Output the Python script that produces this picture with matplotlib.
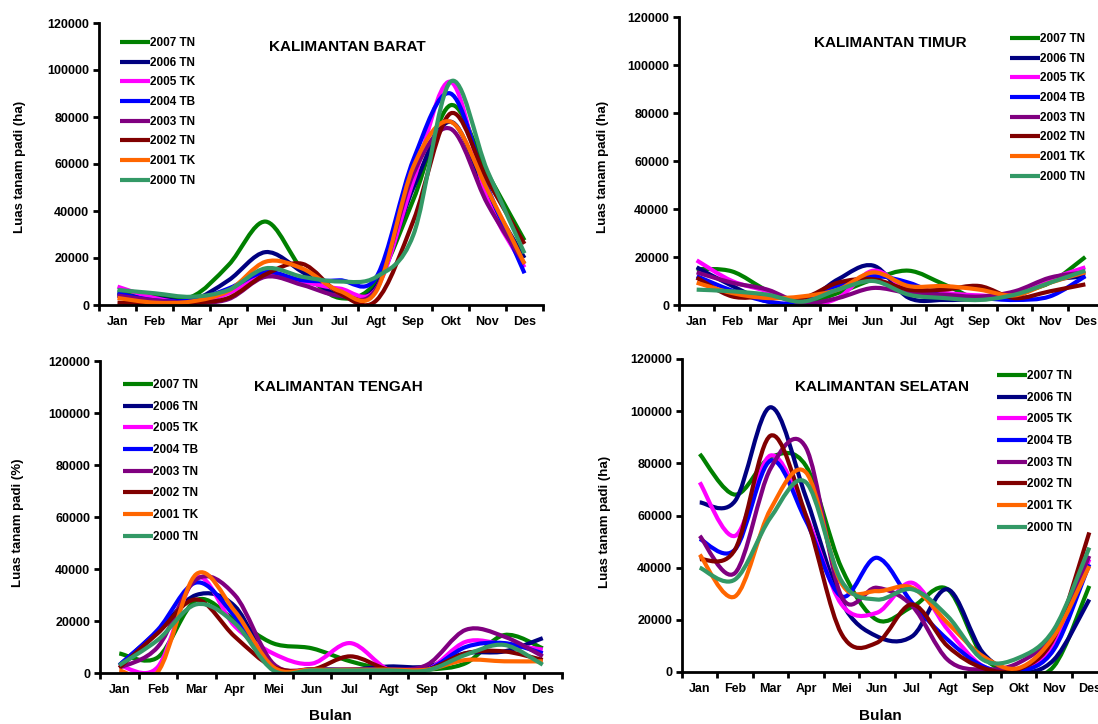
import numpy as np
import matplotlib
matplotlib.use("Agg")
import matplotlib.pyplot as plt
from matplotlib.path import Path
from matplotlib.patches import PathPatch

plt.rcParams["font.family"] = ["Liberation Sans", "DejaVu Sans"]
plt.rcParams["font.weight"] = "bold"

months = ["Jan", "Feb", "Mar", "Apr", "Mei", "Jun", "Jul", "Agt", "Sep", "Okt", "Nov", "Des"]
series_labels = ["2007 TN", "2006 TN", "2005 TK", "2004 TB", "2003 TN", "2002 TN", "2001 TK", "2000 TN"]
series_colors = ["#008000", "#000080", "#FF00FF", "#0000FF", "#800080", "#800000", "#FF6600", "#339966"]

# Kalimantan Barat (ha)
barat_2007 = [5500, 4500, 3500, 17000, 35500, 15000, 3000, 10000, 45000, 85000, 56000, 27500]
barat_2006 = [4000, 3000, 2000, 10500, 22500, 14000, 4000, 8000, 50000, 78000, 47000, 20000]
barat_2005 = [7800, 3000, 1000, 5000, 13500, 10000, 7000, 7000, 53000, 95000, 45000, 16000]
barat_2004 = [5000, 2000, 2000, 7000, 14000, 10500, 10500, 12000, 62000, 90000, 50000, 13500]
barat_2003 = [4000, 2000, 1000, 2500, 12000, 8500, 4000, 7000, 56000, 75000, 43000, 17500]
barat_2002 = [1000, 500, 1000, 3000, 13000, 17500, 5000, 2000, 36000, 81500, 53000, 26000]
barat_2001 = [3000, 1000, 1500, 6000, 18400, 15500, 6000, 6000, 59000, 78000, 49000, 17500]
barat_2000 = [6400, 5000, 3500, 6400, 15600, 12000, 10000, 12000, 30000, 95000, 57000, 22000]

# Kalimantan Timur (ha)
timur_2007 = [15000, 14000, 6000, 1000, 5000, 10700, 14300, 8600, 2500, 5000, 9300, 20000]
timur_2006 = [15700, 8000, 1500, 1000, 10700, 16400, 3000, 2100, 2500, 3500, 10000, 12000]
timur_2005 = [18600, 10000, 5700, 0, 2900, 14300, 6400, 5000, 4000, 4000, 10700, 15700]
timur_2004 = [12000, 6000, 1500, 1000, 7900, 12000, 9300, 3600, 2900, 2100, 3600, 12000]
timur_2003 = [13600, 9300, 6400, 700, 2900, 7100, 5000, 4300, 3500, 5700, 11400, 13600]
timur_2002 = [11400, 3600, 3500, 2900, 9300, 10700, 6400, 6400, 7900, 2900, 5700, 8600]
timur_2001 = [9300, 5000, 2900, 3600, 6400, 13600, 7900, 7900, 6400, 4000, 9300, 13600]
timur_2000 = [6400, 5700, 4300, 1400, 6400, 10000, 4300, 2900, 2100, 4300, 9300, 14300]

# Kalimantan Tengah (%)
tengah_2007 = [7500, 6000, 28000, 20500, 11400, 9500, 4500, 1300, 1300, 3800, 14600, 9500]
tengah_2006 = [3000, 16000, 30000, 25700, 1500, 1500, 1300, 2500, 2500, 7600, 8300, 13400]
tengah_2005 = [3000, 2300, 36700, 18000, 7500, 3600, 11500, 1300, 1300, 12000, 11000, 9000]
tengah_2004 = [3000, 16600, 34800, 21800, 1500, 1300, 1300, 1300, 1300, 10000, 11500, 7600]
tengah_2003 = [2000, 10000, 36000, 30000, 3600, 1300, 1300, 1300, 3200, 16600, 14000, 6400]
tengah_2002 = [2000, 15300, 28300, 14000, 2300, 1300, 6400, 1300, 1300, 7600, 8300, 5000]
tengah_2001 = [1000, 400, 38000, 23800, 2300, 1300, 1300, 1300, 1300, 5000, 4500, 4500]
tengah_2000 = [3000, 12700, 26400, 19200, 1000, 1000, 1000, 1000, 1000, 7000, 10800, 3200]

# Kalimantan Selatan (ha)
selatan_2007 = [83600, 68000, 82300, 79000, 40000, 20000, 25000, 31700, 6000, 0, 2200, 33000]
selatan_2006 = [65000, 65600, 101500, 67000, 27000, 13700, 13700, 31700, 7300, 0, 4700, 27800]
selatan_2005 = [72700, 52200, 83000, 60000, 26000, 22700, 34200, 16300, 2200, 1000, 10000, 43200]
selatan_2004 = [51000, 47000, 81000, 58000, 29000, 43800, 26500, 12400, 2200, 200, 8600, 41300]
selatan_2003 = [52200, 38000, 78000, 86000, 29000, 32300, 25300, 4700, 900, 3500, 15000, 44500]
selatan_2002 = [43200, 47000, 90600, 60000, 14700, 11200, 25900, 9900, 1500, 1000, 13000, 53500]
selatan_2001 = [45000, 29000, 62400, 76500, 34000, 31000, 32300, 18800, 6000, 1500, 13700, 40600]
selatan_2000 = [40000, 35500, 59200, 72700, 35000, 27800, 31700, 21400, 4700, 5400, 16300, 47700]

W, H = 1098, 724


def smooth_path(xs, ys):
    # excel-like smoothed line: bezier through each point
    pts = np.column_stack([xs, ys]).astype(float)
    n = len(pts)
    verts = [pts[0]]
    codes = [Path.MOVETO]
    for i in range(n - 1):
        p0 = pts[max(i - 1, 0)]
        p1 = pts[i]
        p2 = pts[i + 1]
        p3 = pts[min(i + 2, n - 1)]
        verts += [p1 + (p2 - p0) / 6, p2 - (p3 - p1) / 6, p2]
        codes += [Path.CURVE4] * 3
    return Path(verts, codes)


def panel(fig, rect, data, title, title_xy, ylabel, ylabel_xy, leg_xy, leg_space, xlabel=None):
    ax = fig.add_axes([rect[0] / W, 1 - rect[3] / H, (rect[2] - rect[0]) / W, (rect[3] - rect[1]) / H])
    x = np.arange(len(months))
    for vals, col, lab in zip(data, series_colors, series_labels):
        ax.add_patch(PathPatch(smooth_path(x, vals), fill=False, edgecolor=col, lw=3,
                               capstyle="butt", joinstyle="round"))
        ax.plot([], [], color=col, lw=3, label=lab, solid_capstyle="butt")
    ax.set_xlim(-0.5, 11.5)
    ax.set_ylim(0, 120000)
    ax.set_yticks(range(0, 120001, 20000))
    ax.set_yticklabels([str(v) for v in range(0, 120001, 20000)])
    ax.set_xticks(np.arange(-0.5, 12, 1))
    ax.set_xticklabels([])
    ax.set_xticks(x, minor=True)
    ax.set_xticklabels(months, minor=True)
    ax.tick_params(axis="both", which="major", direction="out", length=4, width=2, labelsize=9)
    ax.tick_params(axis="x", which="minor", length=0, labelsize=9, pad=8)
    ax.tick_params(axis="y", pad=3)
    for s in ["top", "right"]:
        ax.spines[s].set_visible(False)
    for s in ["left", "bottom"]:
        ax.spines[s].set_linewidth(2)
    ax.legend(loc="upper left", bbox_to_anchor=(leg_xy[0] / W, 1 - leg_xy[1] / H),
              bbox_transform=fig.transFigure, frameon=False, fontsize=8.5,
              handlelength=2.5, handletextpad=0.0, labelspacing=leg_space,
              borderpad=0, borderaxespad=0)
    fig.text(title_xy[0] / W, 1 - title_xy[1] / H, title, ha="center", va="center",
             fontsize=11, fontweight="bold")
    fig.text(ylabel_xy[0] / W, 1 - ylabel_xy[1] / H, ylabel, ha="center", va="center",
             rotation=90, fontsize=9.5, fontweight="bold")
    if xlabel:
        fig.text(xlabel[1] / W, 1 - xlabel[2] / H, xlabel[0], ha="center", va="center",
                 fontsize=11, fontweight="bold")
    return ax


fig = plt.figure(figsize=(W / 100, H / 100), dpi=100)

panel(fig, (99, 23, 543, 305),
      [barat_2007, barat_2006, barat_2005, barat_2004, barat_2003, barat_2002, barat_2001, barat_2000],
      "KALIMANTAN BARAT", (347, 47), "Luas tanam padi (ha)", (20, 167), (120, 37), 0.65)

panel(fig, (679, 17, 1103, 305),
      [timur_2007, timur_2006, timur_2005, timur_2004, timur_2003, timur_2002, timur_2001, timur_2000],
      "KALIMANTAN TIMUR", (890, 43), "Luas tanam padi (ha)", (603, 167), (1010, 33), 0.65)

panel(fig, (100, 361, 562, 673),
      [tengah_2007, tengah_2006, tengah_2005, tengah_2004, tengah_2003, tengah_2002, tengah_2001, tengah_2000],
      "KALIMANTAN TENGAH", (338, 387), "Luas tanam padi (%)", (18, 523), (123, 379), 0.82,
      xlabel=("Bulan", 330, 716))

panel(fig, (682, 359, 1107, 672),
      [selatan_2007, selatan_2006, selatan_2005, selatan_2004, selatan_2003, selatan_2002, selatan_2001, selatan_2000],
      "KALIMANTAN SELATAN", (882, 387), "Luas tanam padi (ha)", (605, 522), (997, 370), 0.82,
      xlabel=("Bulan", 880, 716))

fig.savefig("out.png", dpi=100)
